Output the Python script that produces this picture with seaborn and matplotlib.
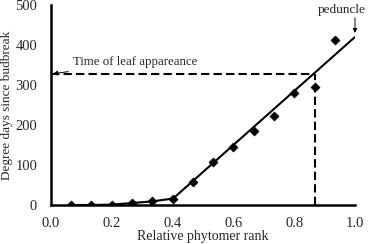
import pandas as pd
import seaborn as sns
import matplotlib.pyplot as plt
from matplotlib.ticker import MultipleLocator, FormatStrFormatter

# observed thermal time per phytomer
rank = [0.067, 0.133, 0.2, 0.267, 0.333, 0.4, 0.467, 0.533,
        0.6, 0.667, 0.733, 0.8, 0.867, 0.933]
degree_days = [0, 0, 1, 5, 9, 16, 58, 108, 145, 184, 222, 279, 294, 412]

# fitted linear phase
fit_rank = [0.4, 1.0]
fit_dd = [15, 420]

# leaf appearance threshold
leaf_rank = 0.867
leaf_dd = 328

sns.set_style('white')
plt.rcParams['font.family'] = ['Liberation Serif', 'DejaVu Serif']

obs = pd.DataFrame({'rank': rank, 'dd': degree_days})
lag = obs[obs['rank'] <= 0.4]
fit = pd.DataFrame({'rank': fit_rank, 'dd': fit_dd})

fig = plt.figure(figsize=(3.68, 2.44), dpi=100)
ax_ = fig.add_axes([51 / 368, 39 / 244, 304 / 368, 200 / 244])

sns.lineplot(data=lag, x='rank', y='dd', ax=ax_, color='black', lw=1.5)
sns.lineplot(data=fit, x='rank', y='dd', ax=ax_, color='black', lw=1.5)
sns.scatterplot(data=obs, x='rank', y='dd', ax=ax_, marker='D', s=22,
                color='black', edgecolor='black', zorder=5)

dash = (0, (4, 2))
ax_.plot([0, leaf_rank], [leaf_dd, leaf_dd], color='black', lw=1.5,
         linestyle=dash, clip_on=False)
ax_.plot([leaf_rank, leaf_rank], [0, leaf_dd], color='black', lw=1.5,
         linestyle=dash)

ax_.annotate('Time of leaf appareance', xy=(0.006, leaf_dd), xytext=(0.072, 357),
             fontsize=9.3, va='center', ha='left',
             arrowprops=dict(arrowstyle='-|>', color='black', lw=0.7,
                             mutation_scale=7, shrinkA=1, shrinkB=0))
ax_.text(0.955, 487, 'peduncle', fontsize=9.5, ha='center', va='center')
ax_.annotate('', xy=(1.0, 430), xytext=(1.0, 468), annotation_clip=False,
             arrowprops=dict(arrowstyle='-|>', color='black', lw=0.7,
                             mutation_scale=6, shrinkA=0, shrinkB=0))

ax_.set_xlim(0, 1.0)
ax_.set_ylim(0, 500)
ax_.xaxis.set_major_locator(MultipleLocator(0.2))
ax_.xaxis.set_minor_locator(MultipleLocator(0.1))
ax_.xaxis.set_major_formatter(FormatStrFormatter('%.1f'))
ax_.yaxis.set_major_locator(MultipleLocator(100))
ax_.yaxis.set_minor_locator(MultipleLocator(50))

ax_.tick_params(which='major', direction='inout', length=7, width=1.5,
                labelsize=10.5)
ax_.tick_params(axis='x', which='major', pad=5)
ax_.tick_params(axis='y', which='major', pad=6.5)
ax_.tick_params(axis='x', which='minor', direction='out', length=3, width=1.5)
ax_.tick_params(axis='y', which='minor', direction='inout', length=4, width=1.5)

for side in ['top', 'right']:
    ax_.spines[side].set_visible(False)
for side in ['left', 'bottom']:
    ax_.spines[side].set_linewidth(1.8)
    ax_.spines[side].set_color('black')

ax_.set_xlabel('Relative phytomer rank', fontsize=10, labelpad=0)
ax_.set_ylabel('Degree days since budbreak', fontsize=9.5)
ax_.yaxis.set_label_coords(-0.125, 0.5)

plt.savefig('out.png', dpi=100)
